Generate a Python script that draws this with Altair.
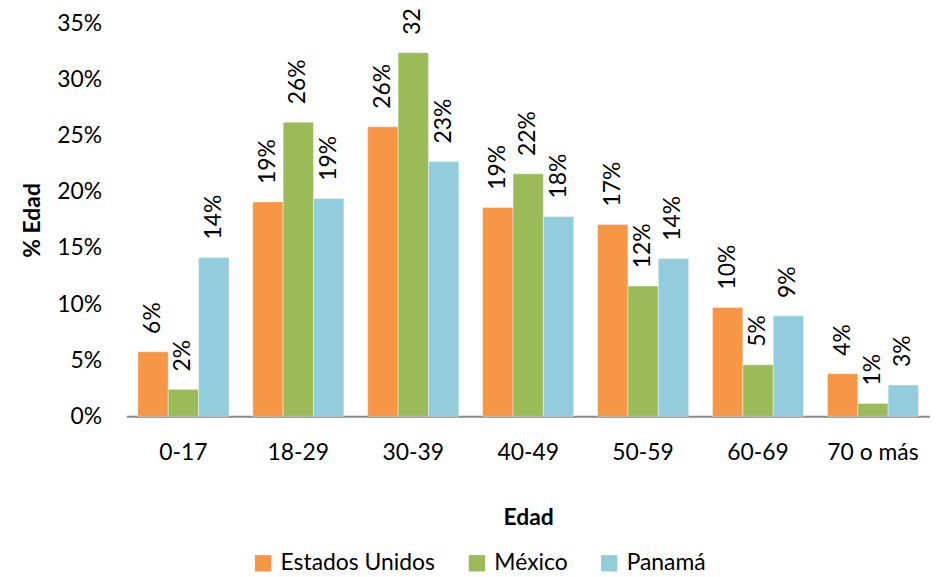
import altair as alt
import pandas as pd

categories = ["0-17", "18-29", "30-39", "40-49", "50-59", "60-69", "70 o más"]
series = ["Estados Unidos", "México", "Panamá"]
estados_unidos = [5.75, 19.1, 25.8, 18.6, 17.1, 9.7, 3.8]
mexico = [2.4, 26.2, 32.4, 21.6, 11.6, 4.6, 1.15]
panama = [14.15, 19.4, 22.7, 17.8, 14.05, 8.95, 2.8]
colors = ["#F79646", "#9BBB59", "#93CDDD"]
y_ticks = [0, 5, 10, 15, 20, 25, 30, 35]

rows = []
for name, vals in zip(series, [estados_unidos, mexico, panama]):
    for c, v in zip(categories, vals):
        rows.append({"Edad": c, "Serie": name, "Valor": v})
df = pd.DataFrame(rows)

FONT = "Lato"
FS = 23

x = alt.X(
    "Edad:N",
    sort=categories,
    scale=alt.Scale(paddingInner=0.207, paddingOuter=0.1),
    axis=alt.Axis(
        title="Edad", labelAngle=0, ticks=False, domainColor="#898989",
        domainWidth=2, labelFontSize=FS, labelPadding=25,
        titleFontSize=FS, titleFontWeight="bold", titlePadding=43,
    ),
)
xo = alt.XOffset("Serie:N", sort=series)
y = alt.Y(
    "Valor:Q",
    scale=alt.Scale(domain=[0, 35]),
    axis=alt.Axis(
        values=y_ticks, labelExpr="datum.value + '%'", grid=False, ticks=False,
        domain=False, labelPadding=25, labelFontSize=FS,
        title="% Edad", titleFontSize=FS, titleFontWeight="bold", titlePadding=12,
    ),
)
color = alt.Color(
    "Serie:N",
    sort=series,
    scale=alt.Scale(domain=series, range=colors),
    legend=alt.Legend(
        title=None, orient="none", direction="horizontal", legendX=126,
        legendY=531, symbolType="square", symbolSize=270, labelFontSize=FS,
        columnPadding=30, labelOffset=6, symbolStrokeWidth=0, symbolOpacity=1,
    ),
)

bars = alt.Chart(df).mark_bar(
    opacity=1, stroke="white", strokeWidth=0.8, strokeOpacity=0.5
).encode(x=x, xOffset=xo, y=y, color=color)
labels = (
    alt.Chart(df)
    .transform_calculate(label="round(datum.Valor) + '%'")
    .mark_text(angle=270, align="left", baseline="middle", dx=18,
               fontSize=FS, font=FONT, color="black")
    .encode(x=x, xOffset=xo, y=y, text="label:N")
)

chart = (
    (bars + labels)
    .properties(
        width=808, height=395,
        autosize=alt.AutoSizeParams(type="none"),
        padding={"left": 119, "top": 14, "right": 0, "bottom": 160},
    )
    .configure_view(stroke=None)
    .configure_axis(labelFont=FONT, titleFont=FONT, labelColor="black", titleColor="black")
    .configure_legend(labelFont=FONT, labelColor="black")
)

chart.save("out.html", embed_options={"renderer": "svg", "actions": False})
